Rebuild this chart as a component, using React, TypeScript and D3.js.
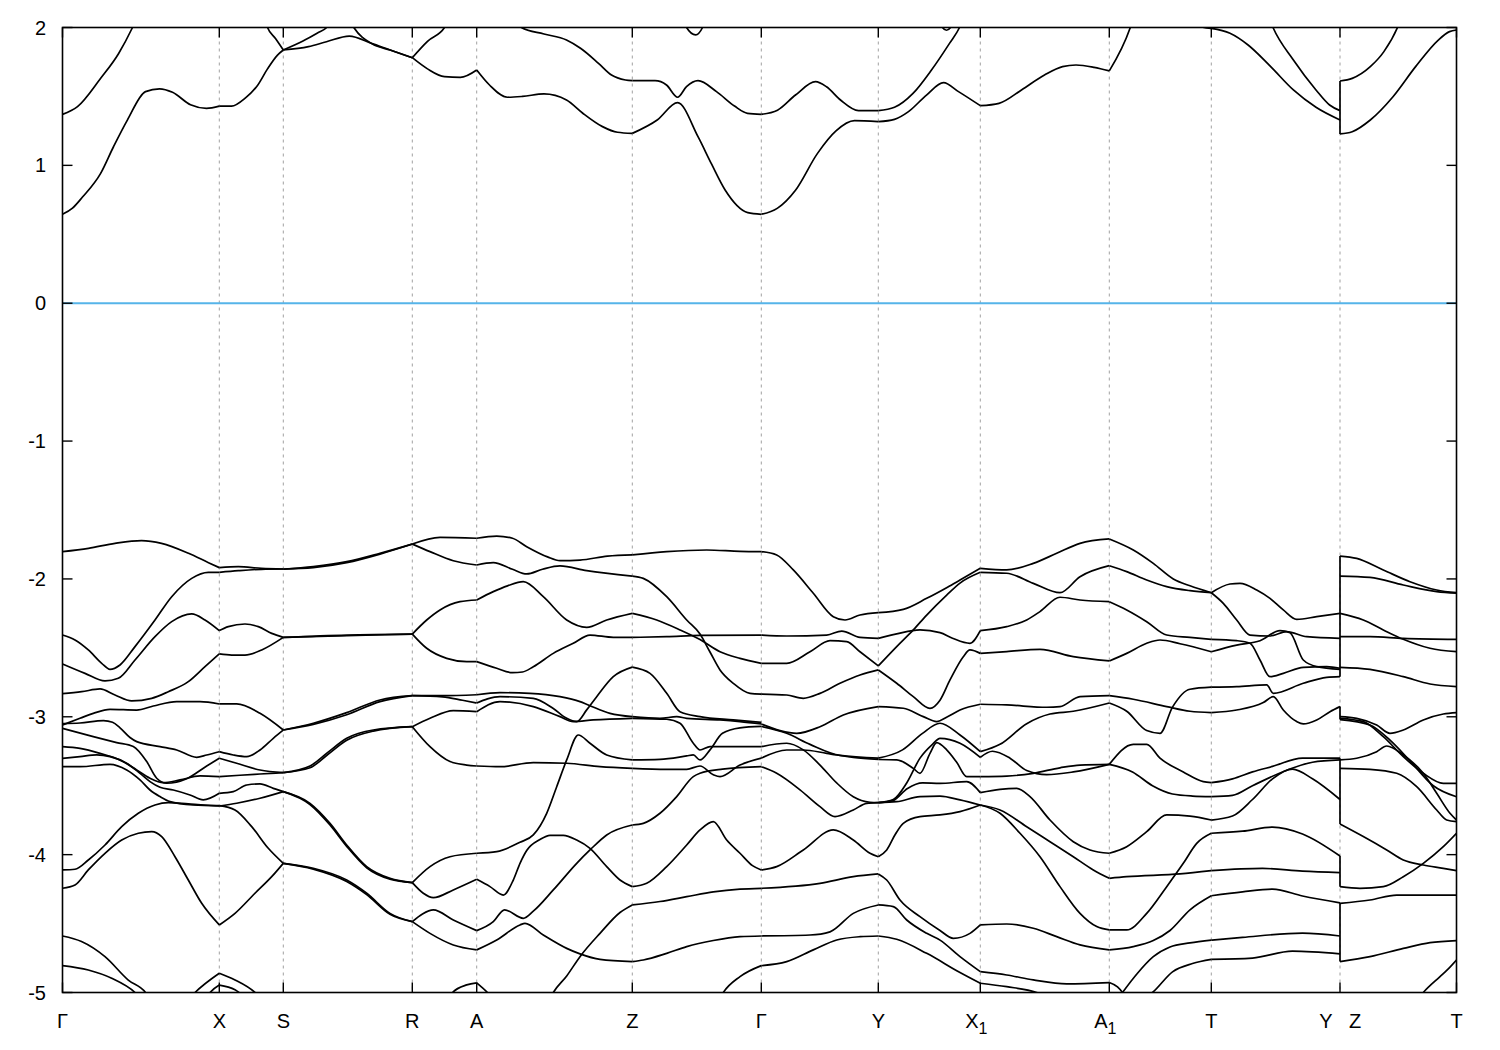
import React from "react";
import * as d3 from "d3";

type Pt = [number, number];

// High-symmetry points along the k-path
const kPoints = [0, 1.568, 2.208, 3.498, 4.142, 5.698, 6.988, 8.158, 9.178, 10.468, 11.488, 12.775, 13.94];
const kLabels = ["Γ", "X", "S", "R", "A", "Z", "Γ", "Y", "X_1", "A_1", "T", "Y|Z", "T"];
const eTicks = [-5, -4, -3, -2, -1, 0, 1, 2];
const eDomain: [number, number] = [-5, 2];
const fermiLevel = 0;

// Bands, one array per path segment (each entry = one curve: [k, E])
const segGX: Pt[][] = [
  [[0,0.645],[0.1,0.69],[0.2,0.77],[0.38,0.94],[0.51,1.135],[0.65,1.33],[0.83,1.535],[0.97,1.555],[1.10,1.53],[1.28,1.44],[1.44,1.414],[1.568,1.43]],
  [[0,1.37],[0.15,1.426],[0.38,1.63],[0.56,1.81],[0.70,2.0],[0.85,2.25],[1.0,2.45]],
  [[0,-1.802],[0.26,-1.778],[0.525,-1.742],[0.79,-1.722],[0.99,-1.742],[1.26,-1.814],[1.46,-1.882],[1.568,-1.918]],
  [[0,-2.407],[0.125,-2.443],[0.258,-2.515],[0.392,-2.612],[0.475,-2.656],[0.575,-2.624],[0.725,-2.491],[0.925,-2.298],[1.092,-2.129],[1.292,-1.996],[1.458,-1.952],[1.568,-1.952]],
  [[0,-2.617],[0.225,-2.685],[0.425,-2.74],[0.558,-2.721],[0.725,-2.588],[0.925,-2.419],[1.092,-2.31],[1.292,-2.254],[1.425,-2.298],[1.568,-2.375]],
  [[0,-2.832],[0.192,-2.818],[0.375,-2.798],[0.525,-2.842],[0.692,-2.885],[0.892,-2.866],[1.058,-2.818],[1.258,-2.745],[1.425,-2.636],[1.568,-2.544]],
  [[0,-3.059],[0.175,-3.011],[0.308,-2.975],[0.475,-2.946],[0.742,-2.951],[0.908,-2.922],[1.142,-2.89],[1.375,-2.89],[1.568,-2.907]],
  [[0,-3.05],[0.175,-3.045],[0.41,-3.028],[0.5,-3.04],[0.575,-3.08],[0.675,-3.15],[0.742,-3.18],[0.975,-3.216],[1.142,-3.241],[1.342,-3.294],[1.442,-3.277],[1.568,-3.253]],
  [[0,-3.084],[0.308,-3.144],[0.542,-3.187],[0.708,-3.216],[0.842,-3.325],[0.942,-3.446],[1.042,-3.482],[1.242,-3.449],[1.442,-3.357],[1.568,-3.301]],
  [[0,-3.216],[0.175,-3.229],[0.375,-3.265],[0.575,-3.313],[0.742,-3.386],[0.875,-3.446],[1.008,-3.478],[1.175,-3.458],[1.375,-3.429],[1.568,-3.434]],
  [[0,-3.301],[0.175,-3.289],[0.342,-3.277],[0.475,-3.289],[0.642,-3.337],[0.775,-3.41],[0.875,-3.47],[0.975,-3.511],[1.108,-3.531],[1.275,-3.567],[1.408,-3.603],[1.568,-3.555]],
  [[0,-3.362],[0.175,-3.362],[0.475,-3.345],[0.642,-3.386],[0.775,-3.458],[0.875,-3.531],[0.975,-3.579],[1.075,-3.615],[1.308,-3.64],[1.568,-3.647]],
  [[0,-4.111],[0.125,-4.106],[0.258,-4.039],[0.425,-3.93],[0.592,-3.797],[0.758,-3.7],[0.925,-3.64],[1.058,-3.623],[1.258,-3.632],[1.425,-3.64],[1.568,-3.645]],
  [[0,-4.244],[0.125,-4.22],[0.258,-4.111],[0.425,-3.99],[0.592,-3.894],[0.758,-3.845],[0.892,-3.833],[0.992,-3.869],[1.125,-4.015],[1.258,-4.184],[1.392,-4.353],[1.568,-4.51]],
  [[0,-4.59],[0.19,-4.63],[0.425,-4.74],[0.658,-4.91],[0.83,-5.0],[0.95,-5.15]],
  [[0,-4.805],[0.258,-4.837],[0.492,-4.897],[0.725,-5.0],[0.85,-5.1]],
  [[1.2,-5.1],[1.325,-5.0],[1.568,-4.86]],
  [[1.4,-5.08],[1.475,-5.0],[1.568,-4.946]],
];

const segXS: Pt[][] = [
  [[1.568,1.43],[1.69,1.43],[1.83,1.49],[1.95,1.58],[2.05,1.70],[2.15,1.80],[2.208,1.837]],
  [[1.9,2.4],[2.0,2.12],[2.05,2.0],[2.13,1.92],[2.208,1.837]],
  [[1.568,-1.918],[1.758,-1.911],[1.99,-1.923],[2.208,-1.928]],
  [[1.568,-1.952],[1.758,-1.94],[1.99,-1.93],[2.208,-1.928]],
  [[1.568,-2.375],[1.658,-2.346],[1.825,-2.327],[1.958,-2.346],[2.092,-2.395],[2.208,-2.424]],
  [[1.568,-2.544],[1.692,-2.552],[1.825,-2.552],[1.992,-2.515],[2.208,-2.424]],
  [[1.568,-2.907],[1.742,-2.907],[1.975,-2.975],[2.208,-3.096]],
  [[1.568,-3.253],[1.708,-3.277],[1.842,-3.289],[1.975,-3.241],[2.108,-3.156],[2.208,-3.096]],
  [[1.568,-3.301],[1.742,-3.337],[1.975,-3.386],[2.208,-3.405]],
  [[1.568,-3.434],[1.775,-3.424],[1.975,-3.415],[2.208,-3.405]],
  [[1.568,-3.555],[1.708,-3.543],[1.842,-3.495],[1.975,-3.487],[2.108,-3.519],[2.208,-3.543]],
  [[1.568,-3.647],[1.742,-3.627],[1.975,-3.591],[2.208,-3.543]],
  [[1.568,-3.645],[1.725,-3.676],[1.892,-3.797],[2.058,-3.954],[2.208,-4.063]],
  [[1.568,-4.51],[1.725,-4.426],[1.925,-4.28],[2.092,-4.16],[2.208,-4.063]],
  [[1.568,-4.86],[1.725,-4.909],[1.925,-5.0],[2.05,-5.1]],
  [[1.568,-4.946],[1.725,-4.98],[1.85,-5.05]],
];

const segSR: Pt[][] = [
  [[2.208,1.837],[2.46,1.861],[2.64,1.897],[2.868,1.938],[3.09,1.885],[3.276,1.837],[3.498,1.781]],
  [[2.208,1.837],[2.40,1.90],[2.55,1.96],[2.642,2.0],[2.8,2.2]],
  [[2.75,2.25],[2.913,2.0],[3.1,1.88],[3.276,1.837],[3.498,1.781]],
  [[2.208,-1.93],[2.508,-1.911],[2.842,-1.875],[3.175,-1.814],[3.498,-1.747]],
  [[2.208,-1.928],[2.508,-1.918],[2.842,-1.882],[3.175,-1.82],[3.498,-1.747]],
  [[2.208,-2.424],[2.842,-2.407],[3.498,-2.40]],
  [[2.208,-2.424],[2.842,-2.412],[3.498,-2.40]],
  [[2.208,-3.096],[2.508,-3.047],[2.842,-2.97],[3.175,-2.878],[3.498,-2.847]],
  [[2.208,-3.096],[2.508,-3.055],[2.842,-2.985],[3.175,-2.89],[3.498,-2.847]],
  [[2.208,-3.405],[2.475,-3.357],[2.65,-3.26],[2.842,-3.156],[3.108,-3.096],[3.498,-3.072]],
  [[2.208,-3.405],[2.475,-3.37],[2.65,-3.275],[2.842,-3.17],[3.108,-3.104],[3.498,-3.072]],
  [[2.208,-3.543],[2.475,-3.628],[2.675,-3.773],[2.842,-3.93],[3.042,-4.087],[3.275,-4.172],[3.498,-4.203]],
  [[2.208,-3.543],[2.475,-3.636],[2.675,-3.785],[2.842,-3.94],[3.042,-4.095],[3.275,-4.178],[3.498,-4.203]],
  [[2.208,-4.063],[2.508,-4.099],[2.842,-4.184],[3.042,-4.28],[3.275,-4.426],[3.498,-4.486]],
  [[2.208,-4.063],[2.508,-4.105],[2.842,-4.195],[3.042,-4.29],[3.275,-4.433],[3.498,-4.486]],
];

const segRA: Pt[][] = [
  [[3.498,1.781],[3.65,1.70],[3.82,1.643],[3.978,1.638],[4.142,1.692]],
  [[3.498,1.781],[3.65,1.90],[3.82,2.0],[3.95,2.2]],
  [[3.498,-1.747],[3.775,-1.698],[4.142,-1.705]],
  [[3.498,-1.747],[3.675,-1.802],[3.908,-1.868],[4.142,-1.899]],
  [[3.498,-2.40],[3.642,-2.298],[3.775,-2.225],[3.975,-2.165],[4.142,-2.153]],
  [[3.498,-2.40],[3.642,-2.503],[3.842,-2.576],[4.042,-2.6],[4.142,-2.6]],
  [[3.498,-2.847],[3.8,-2.847],[4.142,-2.84]],
  [[3.498,-2.847],[3.8,-2.855],[4.0,-2.88],[4.142,-2.9]],
  [[3.498,-3.072],[3.675,-3.011],[3.908,-2.955],[4.142,-2.963]],
  [[3.498,-3.072],[3.675,-3.217],[3.875,-3.325],[4.042,-3.35],[4.142,-3.357]],
  [[3.498,-4.203],[3.675,-4.087],[3.875,-4.015],[4.142,-3.99]],
  [[3.498,-4.203],[3.608,-4.28],[3.708,-4.312],[3.908,-4.256],[4.142,-4.179]],
  [[3.498,-4.486],[3.6,-4.43],[3.708,-4.401],[3.908,-4.474],[4.142,-4.551]],
  [[3.498,-4.486],[3.675,-4.571],[3.908,-4.655],[4.142,-4.691]],
  [[3.85,-5.05],[3.9,-5.0],[4.042,-4.945],[4.142,-4.93]],
];

const segAZ: Pt[][] = [
  [[4.142,1.692],[4.27,1.583],[4.45,1.494],[4.6,1.50],[4.815,1.518],[5.04,1.474],[5.2,1.38],[5.40,1.281],[5.55,1.24],[5.698,1.232]],
  [[4.45,2.25],[4.589,2.0],[4.815,1.953],[5.04,1.909],[5.18,1.849],[5.36,1.74],[5.49,1.655],[5.63,1.619],[5.698,1.614]],
  [[4.142,-1.705],[4.342,-1.689],[4.5,-1.705],[4.642,-1.766],[4.85,-1.84],[4.975,-1.867],[5.175,-1.863],[5.45,-1.835],[5.698,-1.826]],
  [[4.142,-1.899],[4.308,-1.882],[4.5,-1.93],[4.642,-1.964],[4.8,-1.93],[4.975,-1.906],[5.242,-1.94],[5.698,-1.979]],
  [[4.142,-2.153],[4.308,-2.092],[4.45,-2.05],[4.608,-2.02],[4.808,-2.129],[5.042,-2.298],[5.242,-2.351],[5.442,-2.298],[5.698,-2.25]],
  [[4.142,-2.6],[4.342,-2.648],[4.5,-2.68],[4.6,-2.675],[4.708,-2.637],[4.908,-2.54],[5.108,-2.467],[5.275,-2.407],[5.508,-2.424],[5.698,-2.424]],
  [[4.142,-2.84],[4.375,-2.825],[4.675,-2.83],[4.975,-2.854],[5.175,-2.89],[5.258,-2.914],[5.475,-2.975],[5.698,-2.999]],
  [[4.142,-2.9],[4.25,-2.87],[4.375,-2.854],[4.708,-2.866],[4.908,-2.94],[5.042,-3.011],[5.142,-3.035],[5.242,-2.95],[5.342,-2.854],[5.508,-2.709],[5.698,-2.64]],
  [[4.142,-2.963],[4.375,-2.89],[4.708,-2.926],[4.975,-2.999],[5.108,-3.035],[5.308,-3.023],[5.698,-3.011]],
  [[4.142,-3.99],[4.342,-3.978],[4.575,-3.91],[4.708,-3.857],[4.842,-3.70],[4.942,-3.507],[5.042,-3.313],[5.158,-3.132],[5.275,-3.192],[5.442,-3.277],[5.698,-3.313]],
  [[4.142,-3.357],[4.375,-3.362],[4.708,-3.333],[5.042,-3.337],[5.375,-3.362],[5.698,-3.374]],
  [[4.142,-4.179],[4.275,-4.232],[4.408,-4.293],[4.508,-4.184],[4.575,-4.063],[4.642,-3.97],[4.775,-3.89],[4.875,-3.86],[5.008,-3.86],[5.142,-3.894],[5.275,-3.954],[5.442,-4.087],[5.575,-4.184],[5.698,-4.232]],
  [[4.142,-4.551],[4.308,-4.486],[4.42,-4.40],[4.608,-4.462],[4.708,-4.41],[4.908,-4.256],[5.142,-4.063],[5.275,-3.966],[5.442,-3.857],[5.698,-3.785]],
  [[4.142,-4.691],[4.342,-4.619],[4.575,-4.51],[4.625,-4.498],[4.808,-4.583],[5.042,-4.68],[5.175,-4.72],[5.375,-4.76],[5.698,-4.776]],
  [[4.85,-5.08],[4.908,-5.0],[5.042,-4.88],[5.175,-4.74],[5.375,-4.571],[5.575,-4.42],[5.698,-4.365]],
  [[4.142,-4.93],[4.25,-5.0],[4.35,-5.08]],
];

const segZG: Pt[][] = [
  [[5.698,1.232],[5.947,1.329],[6.151,1.455],[6.355,1.208],[6.49,1.01],[6.626,0.821],[6.853,0.657],[6.988,0.645]],
  [[5.698,1.614],[5.925,1.614],[6.04,1.583],[6.151,1.494],[6.24,1.571],[6.355,1.614],[6.54,1.535],[6.72,1.43],[6.85,1.377],[6.988,1.37]],
  [[6.2,2.1],[6.241,2.0],[6.332,1.946],[6.4,2.0],[6.45,2.1]],
  [[5.698,-1.826],[6.042,-1.802],[6.442,-1.79],[6.775,-1.80],[6.988,-1.802]],
  [[5.698,-1.979],[5.808,-1.996],[6.042,-2.129],[6.242,-2.298],[6.375,-2.40],[6.475,-2.53],[6.575,-2.66],[6.708,-2.757],[6.875,-2.83],[6.988,-2.835]],
  [[5.698,-2.25],[5.942,-2.298],[6.175,-2.37],[6.375,-2.44],[6.575,-2.528],[6.775,-2.576],[6.988,-2.612]],
  [[5.698,-2.424],[6.042,-2.419],[6.375,-2.41],[6.988,-2.407]],
  [[5.698,-2.999],[5.975,-3.011],[6.142,-2.999],[6.242,-3.011],[6.575,-3.023],[6.775,-3.035],[6.988,-3.052]],
  [[5.698,-2.64],[5.875,-2.685],[6.042,-2.83],[6.175,-2.963],[6.375,-2.999],[6.708,-3.023],[6.988,-3.04]],
  [[5.698,-3.011],[6.042,-3.018],[6.175,-3.047],[6.308,-3.192],[6.375,-3.241],[6.475,-3.217],[6.708,-3.217],[6.988,-3.217]],
  [[5.698,-3.313],[5.975,-3.309],[6.242,-3.284],[6.308,-3.277],[6.375,-3.313],[6.475,-3.24],[6.6,-3.12],[6.775,-3.08],[6.988,-3.07]],
  [[5.698,-3.374],[6.042,-3.381],[6.242,-3.381],[6.375,-3.357],[6.508,-3.42],[6.575,-3.434],[6.775,-3.35],[6.988,-3.30]],
  [[5.698,-3.785],[5.808,-3.773],[5.975,-3.7],[6.142,-3.579],[6.308,-3.434],[6.375,-3.41],[6.6,-3.38],[6.988,-3.362]],
  [[5.698,-4.232],[5.842,-4.208],[6.042,-4.087],[6.242,-3.93],[6.375,-3.821],[6.508,-3.76],[6.642,-3.894],[6.775,-3.99],[6.9,-4.08],[6.988,-4.111]],
  [[5.698,-4.365],[5.975,-4.34],[6.242,-4.305],[6.508,-4.27],[6.775,-4.25],[6.988,-4.244]],
  [[5.698,-4.776],[5.808,-4.764],[6.042,-4.716],[6.242,-4.667],[6.508,-4.623],[6.775,-4.595],[6.988,-4.59]],
  [[6.5,-5.15],[6.608,-5.0],[6.775,-4.885],[6.988,-4.805]],
];

const segGY: Pt[][] = [
  [[6.988,0.645],[7.147,0.688],[7.33,0.82],[7.55,1.087],[7.735,1.25],[7.92,1.324],[8.158,1.317]],
  [[6.988,1.37],[7.15,1.40],[7.33,1.51],[7.53,1.607],[7.64,1.57],[7.78,1.474],[7.96,1.397],[8.158,1.397]],
  [[6.988,-1.802],[7.142,-1.826],[7.308,-1.935],[7.508,-2.104],[7.708,-2.274],[7.825,-2.298],[7.975,-2.262],[8.158,-2.245]],
  [[6.988,-2.407],[7.242,-2.414],[7.642,-2.407],[7.792,-2.378],[7.975,-2.424],[8.158,-2.431]],
  [[6.988,-2.612],[7.242,-2.612],[7.475,-2.528],[7.675,-2.448],[7.842,-2.455],[7.975,-2.528],[8.158,-2.631]],
  [[6.988,-2.835],[7.242,-2.842],[7.408,-2.866],[7.575,-2.83],[7.775,-2.757],[7.975,-2.697],[8.158,-2.66]],
  [[6.988,-3.052],[7.175,-3.1],[7.342,-3.12],[7.575,-3.072],[7.808,-2.987],[8.158,-2.926]],
  [[6.988,-3.07],[7.242,-3.12],[7.475,-3.2],[7.775,-3.28],[8.158,-3.30]],
  [[6.988,-3.217],[7.242,-3.192],[7.408,-3.24],[7.575,-3.35],[7.742,-3.48],[7.908,-3.58],[8.075,-3.62],[8.158,-3.623]],
  [[6.988,-3.362],[7.142,-3.41],[7.375,-3.53],[7.575,-3.652],[7.725,-3.724],[7.908,-3.676],[8.042,-3.628],[8.158,-3.623]],
  [[6.988,-3.30],[7.242,-3.241],[7.408,-3.241],[7.642,-3.265],[7.908,-3.295],[8.158,-3.31]],
  [[6.988,-4.111],[7.142,-4.087],[7.408,-3.966],[7.708,-3.821],[7.908,-3.894],[8.075,-3.99],[8.158,-4.015]],
  [[6.988,-4.244],[7.575,-4.208],[7.908,-4.16],[8.158,-4.14]],
  [[6.988,-4.59],[7.475,-4.583],[7.675,-4.56],[7.908,-4.426],[8.158,-4.365]],
  [[6.988,-4.805],[7.242,-4.776],[7.508,-4.691],[7.742,-4.619],[7.975,-4.595],[8.158,-4.59]],
];

const segYX1: Pt[][] = [
  [[8.158,1.317],[8.32,1.334],[8.46,1.39],[8.64,1.51],[8.81,1.60],[8.96,1.535],[9.178,1.433]],
  [[8.158,1.397],[8.32,1.421],[8.505,1.522],[8.69,1.692],[8.87,1.885],[8.97,2.0],[9.05,2.15]],
  [[8.76,2.1],[8.8,2.0],[8.84,1.98],[8.88,2.0],[8.92,2.1]],
  [[8.158,-2.245],[8.408,-2.221],[8.642,-2.141],[8.85,-2.06],[8.975,-2.008],[9.178,-1.923]],
  [[8.158,-2.631],[8.342,-2.491],[8.508,-2.37],[8.642,-2.262],[8.842,-2.117],[8.975,-2.03],[9.178,-1.952]],
  [[8.158,-2.431],[8.342,-2.399],[8.575,-2.37],[8.775,-2.39],[8.9,-2.43],[9.075,-2.467],[9.178,-2.375]],
  [[8.158,-2.66],[8.342,-2.757],[8.508,-2.854],[8.675,-2.939],[8.775,-2.88],[8.875,-2.733],[9.008,-2.564],[9.075,-2.515],[9.178,-2.54]],
  [[8.158,-2.926],[8.408,-2.938],[8.608,-2.999],[8.742,-3.035],[8.85,-3.0],[8.975,-2.951],[9.178,-2.909]],
  [[8.158,-3.31],[8.342,-3.313],[8.508,-3.374],[8.575,-3.41],[8.675,-3.265],[8.742,-3.188],[8.842,-3.24],[8.942,-3.33],[9.042,-3.434],[9.178,-3.434]],
  [[8.158,-3.30],[8.4,-3.24],[8.6,-3.12],[8.775,-3.047],[8.975,-3.132],[9.178,-3.253]],
  [[8.158,-3.623],[8.308,-3.6],[8.442,-3.48],[8.575,-3.3],[8.7,-3.2],[8.775,-3.156],[8.975,-3.192],[9.178,-3.294]],
  [[8.158,-3.623],[8.342,-3.616],[8.575,-3.579],[8.775,-3.575],[8.975,-3.603],[9.178,-3.64]],
  [[8.158,-3.623],[8.3,-3.61],[8.45,-3.52],[8.6,-3.48],[8.775,-3.483],[9.042,-3.47],[9.178,-3.55]],
  [[8.158,-4.015],[8.242,-3.966],[8.33,-3.85],[8.408,-3.773],[8.575,-3.724],[8.775,-3.712],[8.975,-3.688],[9.178,-3.64]],
  [[8.158,-4.14],[8.242,-4.184],[8.375,-4.329],[8.575,-4.45],[8.775,-4.55],[8.908,-4.607],[9.075,-4.571],[9.178,-4.51]],
  [[8.158,-4.365],[8.308,-4.377],[8.442,-4.474],[8.642,-4.571],[8.775,-4.62],[8.975,-4.74],[9.178,-4.849]],
  [[8.158,-4.59],[8.342,-4.614],[8.642,-4.716],[8.975,-4.855],[9.178,-4.933]],
];

const segX1A1: Pt[][] = [
  [[9.178,1.433],[9.365,1.45],[9.59,1.547],[9.82,1.655],[10.0,1.716],[10.135,1.728],[10.316,1.711],[10.468,1.685]],
  [[9.178,-1.923],[9.442,-1.935],[9.708,-1.887],[9.942,-1.814],[10.175,-1.742],[10.468,-1.71]],
  [[9.178,-1.952],[9.442,-1.959],[9.708,-2.032],[9.975,-2.1],[10.175,-1.984],[10.468,-1.904]],
  [[9.178,-2.375],[9.442,-2.346],[9.642,-2.298],[9.775,-2.237],[9.975,-2.133],[10.175,-2.153],[10.468,-2.165]],
  [[9.178,-2.54],[9.442,-2.527],[9.775,-2.511],[10.108,-2.564],[10.468,-2.595]],
  [[9.178,-2.909],[9.442,-2.914],[9.842,-2.931],[9.975,-2.926],[10.175,-2.854],[10.468,-2.847]],
  [[9.178,-3.253],[9.375,-3.2],[9.642,-3.05],[9.875,-2.98],[10.108,-2.96],[10.468,-2.9]],
  [[9.178,-3.294],[9.3,-3.25],[9.475,-3.30],[9.642,-3.39],[9.842,-3.42],[10.108,-3.40],[10.468,-3.345]],
  [[9.178,-3.434],[9.442,-3.43],[9.708,-3.41],[9.975,-3.37],[10.175,-3.35],[10.468,-3.345]],
  [[9.178,-3.55],[9.375,-3.526],[9.542,-3.519],[9.675,-3.579],[9.875,-3.749],[10.108,-3.906],[10.275,-3.966],[10.468,-3.99]],
  [[9.178,-3.64],[9.375,-3.676],[9.642,-3.797],[9.875,-3.906],[10.108,-4.015],[10.308,-4.111],[10.468,-4.172]],
  [[9.178,-3.64],[9.375,-3.7],[9.575,-3.845],[9.775,-4.015],[9.975,-4.232],[10.175,-4.426],[10.342,-4.522],[10.468,-4.546]],
  [[9.178,-4.51],[9.442,-4.503],[9.708,-4.534],[9.942,-4.595],[10.175,-4.655],[10.468,-4.691]],
  [[9.178,-4.849],[9.442,-4.873],[9.708,-4.909],[10.042,-4.938],[10.468,-4.928]],
  [[9.178,-4.933],[9.442,-4.958],[9.742,-5.0],[9.9,-5.05]],
];

const segA1T: Pt[][] = [
  [[10.468,1.685],[10.678,2.0],[10.8,2.3]],
  [[11.3,2.06],[11.403,2.003],[11.488,1.994]],
  [[10.468,-1.71],[10.708,-1.79],[10.908,-1.887],[11.108,-2.0],[11.275,-2.05],[11.488,-2.1]],
  [[10.468,-1.904],[10.642,-1.947],[10.842,-2.008],[11.042,-2.056],[11.275,-2.085],[11.488,-2.1]],
  [[10.468,-2.165],[10.642,-2.225],[10.842,-2.31],[11.042,-2.407],[11.275,-2.424],[11.488,-2.438]],
  [[10.468,-2.595],[10.642,-2.54],[10.842,-2.467],[10.975,-2.443],[11.175,-2.47],[11.488,-2.528]],
  [[10.468,-2.847],[10.708,-2.873],[11.042,-2.926],[11.275,-2.96],[11.488,-2.97]],
  [[10.468,-2.9],[10.642,-2.96],[10.842,-3.1],[10.975,-3.12],[11.1,-2.93],[11.275,-2.80],[11.488,-2.785]],
  [[10.468,-3.345],[10.708,-3.2],[10.842,-3.2],[10.975,-3.3],[11.208,-3.4],[11.408,-3.47],[11.488,-3.478]],
  [[10.468,-3.345],[10.7,-3.4],[10.9,-3.5],[11.1,-3.56],[11.3,-3.575],[11.488,-3.579]],
  [[10.468,-3.99],[10.642,-3.942],[10.842,-3.833],[11.042,-3.712],[11.275,-3.72],[11.488,-3.749]],
  [[10.468,-4.172],[10.642,-4.16],[11.175,-4.14],[11.488,-4.116]],
  [[10.468,-4.546],[10.642,-4.546],[10.842,-4.426],[11.042,-4.232],[11.208,-4.063],[11.342,-3.918],[11.488,-3.845]],
  [[10.468,-4.691],[10.708,-4.667],[10.908,-4.623],[11.075,-4.55],[11.275,-4.4],[11.488,-4.298]],
  [[10.468,-4.928],[10.55,-4.96],[10.6,-5.0],[10.65,-5.05]],
  [[10.55,-5.05],[10.6,-5.0],[10.75,-4.86],[10.908,-4.74],[11.075,-4.67],[11.275,-4.64],[11.488,-4.62]],
  [[10.8,-5.05],[10.9,-5.0],[11.1,-4.85],[11.3,-4.79],[11.488,-4.76]],
];

const segTY: Pt[][] = [
  [[11.488,1.994],[11.675,1.958],[11.856,1.873],[12.082,1.716],[12.309,1.547],[12.535,1.421],[12.775,1.329]],
  [[12.0,2.2],[12.105,2.0],[12.309,1.764],[12.535,1.547],[12.671,1.438],[12.775,1.397]],
  [[11.488,-2.1],[11.675,-2.037],[11.775,-2.032],[11.942,-2.08],[12.075,-2.141],[12.208,-2.225],[12.342,-2.293],[12.542,-2.274],[12.775,-2.25]],
  [[11.488,-2.1],[11.608,-2.177],[11.742,-2.298],[11.875,-2.407],[12.075,-2.414],[12.242,-2.382],[12.442,-2.419],[12.775,-2.431]],
  [[11.488,-2.438],[11.742,-2.448],[11.875,-2.467],[11.975,-2.588],[12.075,-2.709],[12.208,-2.685],[12.408,-2.641],[12.642,-2.636],[12.775,-2.648]],
  [[11.488,-2.528],[11.742,-2.48],[11.975,-2.448],[12.175,-2.375],[12.275,-2.39],[12.408,-2.588],[12.542,-2.636],[12.775,-2.656]],
  [[11.488,-2.785],[11.742,-2.781],[12.042,-2.769],[12.108,-2.83],[12.408,-2.757],[12.642,-2.714],[12.775,-2.709]],
  [[11.488,-2.97],[11.742,-2.951],[12.008,-2.897],[12.108,-2.854],[12.208,-2.951],[12.342,-3.035],[12.408,-3.052],[12.542,-3.023],[12.675,-2.963],[12.775,-2.926]],
  [[11.488,-3.478],[11.7,-3.45],[11.9,-3.4],[12.1,-3.36],[12.4,-3.3],[12.775,-3.30]],
  [[11.488,-3.579],[11.7,-3.57],[11.9,-3.5],[12.2,-3.4],[12.5,-3.33],[12.775,-3.313]],
  [[11.488,-3.749],[11.7,-3.72],[11.9,-3.6],[12.1,-3.45],[12.3,-3.38],[12.5,-3.45],[12.775,-3.6]],
  [[11.488,-3.845],[11.8,-3.83],[12.1,-3.8],[12.4,-3.85],[12.775,-4.01]],
  [[11.488,-4.116],[12.0,-4.10],[12.4,-4.12],[12.775,-4.13]],
  [[11.488,-4.298],[11.8,-4.27],[12.1,-4.25],[12.4,-4.3],[12.775,-4.35]],
  [[11.488,-4.62],[11.8,-4.6],[12.4,-4.57],[12.775,-4.59]],
  [[11.488,-4.76],[11.9,-4.75],[12.3,-4.7],[12.775,-4.72]],
];

const segZT: Pt[][] = [
  [[12.775,1.228],[12.897,1.244],[13.078,1.329],[13.305,1.498],[13.531,1.716],[13.758,1.909],[13.87,1.97],[13.94,1.982]],
  [[12.775,1.612],[12.897,1.631],[13.078,1.716],[13.214,1.825],[13.35,2.0],[13.45,2.2]],
  [[12.775,-1.834],[12.942,-1.851],[13.208,-1.935],[13.475,-2.02],[13.742,-2.08],[13.94,-2.1]],
  [[12.775,-1.979],[13.075,-1.989],[13.408,-2.044],[13.742,-2.092],[13.94,-2.104]],
  [[12.775,-2.25],[13.008,-2.298],[13.208,-2.37],[13.408,-2.438],[13.675,-2.503],[13.94,-2.528]],
  [[12.775,-2.419],[13.075,-2.419],[13.408,-2.431],[13.94,-2.438]],
  [[12.775,-2.641],[13.075,-2.656],[13.408,-2.709],[13.675,-2.762],[13.94,-2.781]],
  [[12.775,-2.999],[12.942,-3.011],[13.142,-3.06],[13.275,-3.12],[13.408,-3.096],[13.608,-3.023],[13.808,-2.98],[13.94,-2.97]],
  [[12.775,-3.011],[13.008,-3.035],[13.208,-3.144],[13.408,-3.289],[13.608,-3.41],[13.808,-3.483],[13.94,-3.483]],
  [[12.775,-3.02],[13.075,-3.06],[13.275,-3.17],[13.475,-3.32],[13.708,-3.5],[13.94,-3.58]],
  [[12.775,-3.313],[12.942,-3.301],[13.142,-3.253],[13.242,-3.212],[13.408,-3.277],[13.608,-3.41],[13.742,-3.555],[13.875,-3.7],[13.94,-3.749]],
  [[12.775,-3.374],[13.075,-3.381],[13.342,-3.41],[13.542,-3.507],[13.742,-3.676],[13.842,-3.749],[13.94,-3.761]],
  [[12.775,-3.778],[13.008,-3.869],[13.242,-3.966],[13.408,-4.039],[13.608,-4.075],[13.808,-4.099],[13.94,-4.116]],
  [[12.775,-4.232],[12.975,-4.244],[13.208,-4.232],[13.408,-4.16],[13.608,-4.063],[13.808,-3.942],[13.94,-3.845]],
  [[12.775,-4.353],[13.075,-4.329],[13.342,-4.293],[13.94,-4.293]],
  [[12.775,-4.776],[13.075,-4.74],[13.408,-4.68],[13.675,-4.638],[13.94,-4.623]],
  [[13.5,-5.1],[13.608,-5.0],[13.775,-4.885],[13.842,-4.84],[13.94,-4.764]],
];

// vertical jumps at the Y|Z discontinuity: [E top, E bottom]
const yzJumps: [number, number][] = [
  [1.612, 1.228],
  [-1.834, -2.709],
  [-2.926, -3.02],
  [-3.30, -3.778],
  [-4.01, -4.232],
  [-4.35, -4.776],
];

const allSegments: Pt[][][] = [segGX, segXS, segSR, segRA, segAZ, segZG, segGY, segYX1, segX1A1, segA1T, segTY, segZT];

const W = 1500;
const H = 1050;
const PL = 62.5, PR = 1456.5, PT = 27.5, PB = 992.5;
const FONT = "'Liberation Sans', Arial, Helvetica, sans-serif";

function Label({ x, y, text }: { x: number; y: number; text: string }) {
  if (text.includes("|")) {
    const [a, b] = text.split("|");
    return (
      <g>
        <text x={x - 14} y={y} textAnchor="middle" fontSize={20} fontFamily={FONT}>{a}</text>
        <text x={x + 15} y={y} textAnchor="middle" fontSize={20} fontFamily={FONT}>{b}</text>
      </g>
    );
  }
  if (text.includes("_")) {
    const [a, b] = text.split("_");
    return (
      <text x={x - 4} y={y} textAnchor="middle" fontSize={20} fontFamily={FONT}>
        {a}
        <tspan fontSize={16} dy={6}>{b}</tspan>
      </text>
    );
  }
  return <text x={x} y={y} textAnchor="middle" fontSize={20} fontFamily={FONT}>{text}</text>;
}

export default function App() {
  const x = d3.scaleLinear().domain([kPoints[0], kPoints[kPoints.length - 1]]).range([PL, PR]);
  const y = d3.scaleLinear().domain(eDomain).range([PB, PT]);
  const line = d3.line<Pt>().x((d) => x(d[0])).y((d) => y(d[1])).curve(d3.curveMonotoneX);
  const xYZ = x(kPoints[11]);

  return (
    <div style={{ position: "absolute", left: 0, top: 0 }}>
      <svg width={W} height={H} viewBox={`0 0 ${W} ${H}`} style={{ display: "block", background: "#fff" }}>
        <defs>
          <clipPath id="plotClip">
            <rect x={PL} y={PT} width={PR - PL} height={PB - PT} />
          </clipPath>
        </defs>
        <rect x={0} y={0} width={W} height={H} fill="#fff" />
        {kPoints.slice(1, -1).map((k, i) => (
          <line key={"g" + i} x1={x(k)} x2={x(k)} y1={PT} y2={PB} stroke="#a0a0a0" strokeWidth={1} strokeDasharray="3,4" />
        ))}
        <line x1={PL} x2={PR} y1={y(fermiLevel)} y2={y(fermiLevel)} stroke="#56b4e9" strokeWidth={2} />
        <g clipPath="url(#plotClip)" fill="none" stroke="#000" strokeWidth={1.7} strokeLinejoin="round">
          {allSegments.map((seg, si) =>
            seg.map((pts, li) => <path key={si + "-" + li} d={line(pts) || ""} />)
          )}
          {yzJumps.map((j, i) => (
            <line key={"j" + i} x1={xYZ} x2={xYZ} y1={y(j[0])} y2={y(j[1])} />
          ))}
        </g>
        <rect x={PL} y={PT} width={PR - PL} height={PB - PT} fill="none" stroke="#000" strokeWidth={1.6} />
        {eTicks.map((e) => (
          <g key={"yt" + e}>
            <line x1={PL} x2={PL + 10} y1={y(e)} y2={y(e)} stroke="#000" strokeWidth={1.4} />
            <line x1={PR} x2={PR - 10} y1={y(e)} y2={y(e)} stroke="#000" strokeWidth={1.4} />
            <text x={46} y={y(e) + 7} textAnchor="end" fontSize={20} fontFamily={FONT}>{e}</text>
          </g>
        ))}
        {kPoints.map((k, i) => (
          <g key={"xt" + i}>
            <line x1={x(k)} x2={x(k)} y1={PB} y2={PB - 10} stroke="#000" strokeWidth={1.4} />
            <line x1={x(k)} x2={x(k)} y1={PT} y2={PT + 10} stroke="#000" strokeWidth={1.4} />
            <Label x={x(k)} y={1028} text={kLabels[i]} />
          </g>
        ))}
      </svg>
    </div>
  );
}
